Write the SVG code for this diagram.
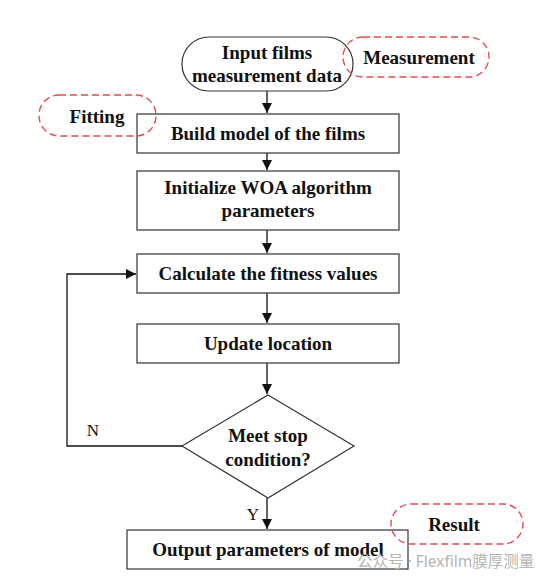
<svg xmlns="http://www.w3.org/2000/svg" width="554" height="583" viewBox="0 0 554 583">
<style>
.box{fill:#fff;stroke:#333;stroke-width:1.2}
.t{font-family:"Liberation Serif",serif;font-weight:bold;font-size:19px;fill:#111;text-anchor:middle}
.lbl{font-family:"Liberation Serif",serif;font-size:17px;fill:#111;text-anchor:middle}
.tag{fill:none;stroke:#e84a4f;stroke-width:1.4;stroke-dasharray:7,4}
.ln{fill:none;stroke:#111;stroke-width:1.3}
.wm{font-family:"Noto Sans","Noto Sans CJK SC",sans-serif;font-size:15.5px;fill:#b5b5b5}
</style>
<defs>
<marker id="ah" viewBox="0 0 10 10" refX="10" refY="5" markerWidth="10" markerHeight="10" markerUnits="userSpaceOnUse" orient="auto">
<path d="M0,0 L10,5 L0,10 z" fill="#111"/>
</marker>
</defs>
<rect width="554" height="583" fill="#fff"/>
<g id="connectors">
<line class="ln" x1="267" y1="91" x2="267" y2="113" marker-end="url(#ah)"/>
<line class="ln" x1="267" y1="153" x2="267" y2="170" marker-end="url(#ah)"/>
<line class="ln" x1="267" y1="230" x2="267" y2="253" marker-end="url(#ah)"/>
<line class="ln" x1="267" y1="293" x2="267" y2="323" marker-end="url(#ah)"/>
<line class="ln" x1="267" y1="363" x2="267" y2="394" marker-end="url(#ah)"/>
<line class="ln" x1="267" y1="498" x2="267" y2="529" marker-end="url(#ah)"/>
<polyline class="ln" points="182,446 67,446 67,274 136,274" marker-end="url(#ah)"/>
<text class="lbl" x="93" y="436">N</text>
<text class="lbl" x="253" y="520">Y</text>
</g>
<g id="start">
<rect class="box" x="182" y="37" width="171" height="54" rx="27" ry="27"/>
<text class="t" x="267" y="59">Input films</text>
<text class="t" x="267" y="82">measurement data</text>
</g>
<g id="tag-measurement">
<rect class="tag" x="343" y="37" width="146" height="40" rx="20" ry="20"/>
<text class="t" x="419" y="64">Measurement</text>
</g>
<g id="build">
<rect class="box" x="137" y="114" width="262" height="39"/>
<text class="t" x="268" y="140">Build model of the films</text>
</g>
<g id="tag-fitting">
<rect class="tag" x="39" y="95" width="117" height="41" rx="20" ry="20"/>
<text class="t" x="97" y="123">Fitting</text>
</g>
<g id="init">
<rect class="box" x="137" y="171" width="262" height="59"/>
<text class="t" x="268" y="194">Initialize WOA algorithm</text>
<text class="t" x="268" y="217">parameters</text>
</g>
<g id="calc">
<rect class="box" x="137" y="254" width="262" height="39"/>
<text class="t" x="268" y="280">Calculate the fitness values</text>
</g>
<g id="update">
<rect class="box" x="137" y="324" width="262" height="39"/>
<text class="t" x="268" y="350">Update location</text>
</g>
<g id="decision">
<polygon class="box" points="268,395 354,446 268,498 182,446"/>
<text class="t" x="268" y="442">Meet stop</text>
<text class="t" x="268" y="466">condition?</text>
</g>
<g id="output">
<rect class="box" x="127" y="530" width="281" height="39"/>
<text class="t" x="268" y="556">Output parameters of model</text>
</g>
<g id="tag-result">
<rect class="tag" x="391" y="504" width="132" height="40" rx="20" ry="20"/>
<text class="t" x="454" y="531">Result</text>
</g>
<g id="watermark">
<text class="wm" x="357" y="567">公众号 · Flexfilm膜厚测量</text>
</g>
</svg>
